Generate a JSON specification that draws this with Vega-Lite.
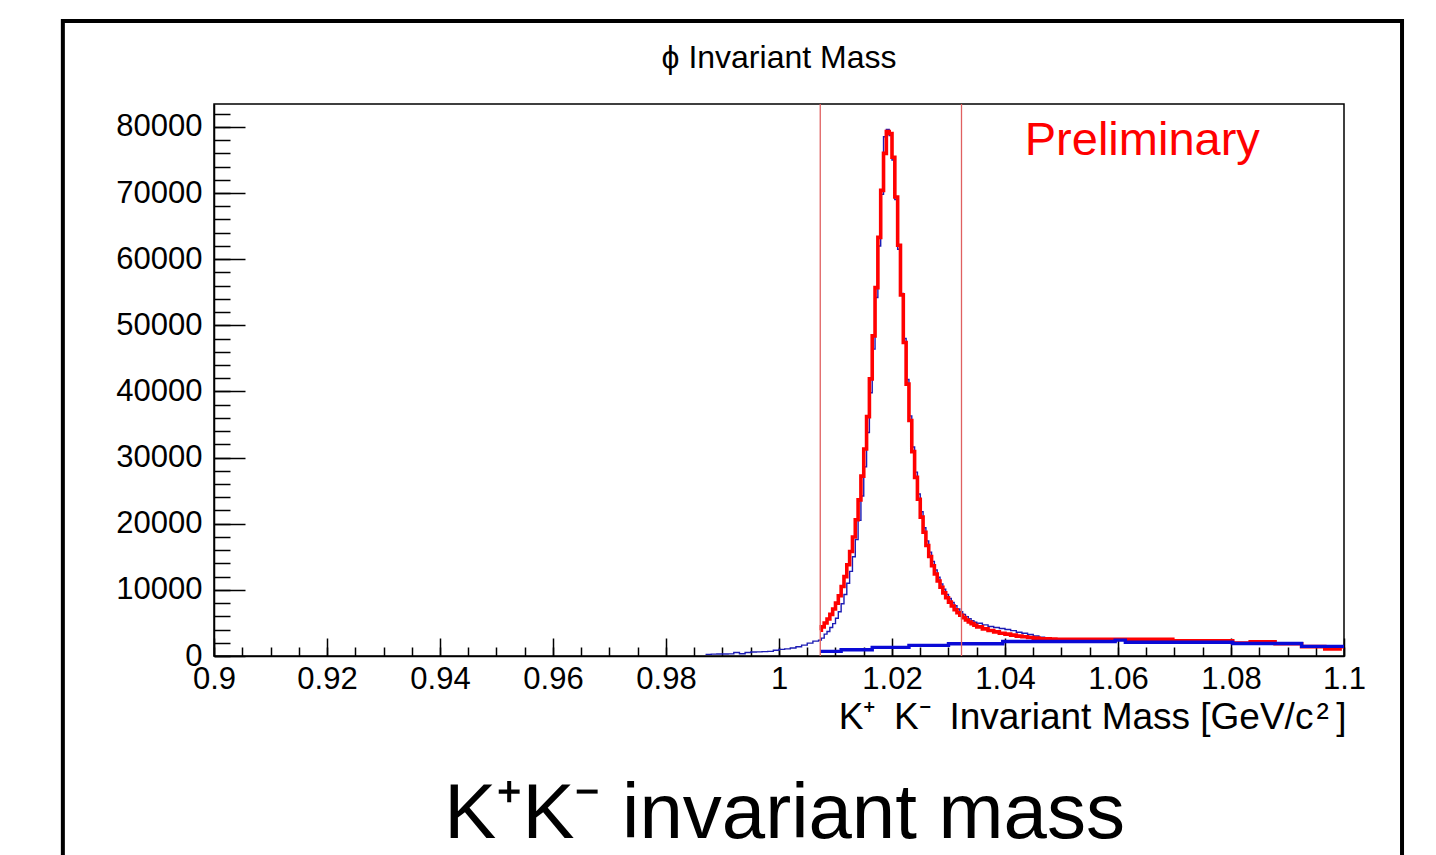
{
  "$schema": "https://vega.github.io/schema/vega-lite/v6.json",
  "width": 1130,
  "height": 552,
  "autosize": {"type": "none"},
  "padding": {"left": 214, "top": 104, "right": 92, "bottom": 199},
  "background": "white",
  "config": {
    "view": {"stroke": "#000", "strokeWidth": 1.5},
    "axis": {"grid": false, "labelFont": "Liberation Sans", "titleFont": "Liberation Sans", "labelColor": "#000", "tickColor": "#000", "domainColor": "#000", "labelFlush": false, "labelOverlap": false, "labelBound": false}
  },
  "datasets": {
    "h": [
      {"s":"hist","m":0.987,"v":250},{"s":"hist","m":0.988,"v":280},{"s":"hist","m":0.989,"v":300},{"s":"hist","m":0.990,"v":300},
      {"s":"hist","m":0.991,"v":320},{"s":"hist","m":0.992,"v":520},{"s":"hist","m":0.993,"v":330},{"s":"hist","m":0.994,"v":520},
      {"s":"hist","m":0.995,"v":600},{"s":"hist","m":0.996,"v":620},{"s":"hist","m":0.997,"v":660},{"s":"hist","m":0.998,"v":700},
      {"s":"hist","m":0.999,"v":880},{"s":"hist","m":1.000,"v":1000},{"s":"hist","m":1.001,"v":1080},{"s":"hist","m":1.002,"v":1200},
      {"s":"hist","m":1.003,"v":1400},{"s":"hist","m":1.004,"v":1650},{"s":"hist","m":1.005,"v":1950},{"s":"hist","m":1.006,"v":2250},
      {"s":"hist","m":1.007,"v":2400},{"s":"hist","m":1.0075,"v":2700},{"s":"hist","m":1.008,"v":3300},{"s":"hist","m":1.0085,"v":3700},
      {"s":"hist","m":1.009,"v":4300},{"s":"hist","m":1.0095,"v":4900},{"s":"hist","m":1.010,"v":5700},{"s":"hist","m":1.0105,"v":6700},
      {"s":"hist","m":1.011,"v":7900},{"s":"hist","m":1.0115,"v":9300},{"s":"hist","m":1.012,"v":11000},{"s":"hist","m":1.0125,"v":12800},
      {"s":"hist","m":1.013,"v":15000},{"s":"hist","m":1.0135,"v":17600},{"s":"hist","m":1.014,"v":20500},{"s":"hist","m":1.0145,"v":24200},
      {"s":"hist","m":1.015,"v":28600},{"s":"hist","m":1.0155,"v":33800},{"s":"hist","m":1.016,"v":39800},{"s":"hist","m":1.0165,"v":46400},
      {"s":"hist","m":1.017,"v":54200},{"s":"hist","m":1.0175,"v":62000},{"s":"hist","m":1.018,"v":69800},{"s":"hist","m":1.0185,"v":78500},
      {"s":"hist","m":1.019,"v":79600},{"s":"hist","m":1.0195,"v":78700},{"s":"hist","m":1.020,"v":75000},{"s":"hist","m":1.0205,"v":69000},
      {"s":"hist","m":1.021,"v":61500},{"s":"hist","m":1.0215,"v":54800},{"s":"hist","m":1.022,"v":48000},{"s":"hist","m":1.0225,"v":41800},
      {"s":"hist","m":1.023,"v":36300},{"s":"hist","m":1.0235,"v":31600},{"s":"hist","m":1.024,"v":27800},{"s":"hist","m":1.0245,"v":24500},
      {"s":"hist","m":1.025,"v":21800},{"s":"hist","m":1.0255,"v":19400},{"s":"hist","m":1.026,"v":17400},{"s":"hist","m":1.0265,"v":15700},
      {"s":"hist","m":1.027,"v":14300},{"s":"hist","m":1.0275,"v":13000},{"s":"hist","m":1.028,"v":11900},{"s":"hist","m":1.0285,"v":10900},
      {"s":"hist","m":1.029,"v":10100},{"s":"hist","m":1.0295,"v":9300},{"s":"hist","m":1.030,"v":8700},{"s":"hist","m":1.0305,"v":8100},
      {"s":"hist","m":1.031,"v":7600},{"s":"hist","m":1.0315,"v":7100},{"s":"hist","m":1.032,"v":6700},{"s":"hist","m":1.0325,"v":6300},
      {"s":"hist","m":1.033,"v":5950},{"s":"hist","m":1.0335,"v":5650},{"s":"hist","m":1.034,"v":5350},{"s":"hist","m":1.0345,"v":5100},
      {"s":"hist","m":1.035,"v":4950},{"s":"hist","m":1.036,"v":4700},{"s":"hist","m":1.037,"v":4450},{"s":"hist","m":1.038,"v":4300},
      {"s":"hist","m":1.039,"v":4150},{"s":"hist","m":1.040,"v":4000},{"s":"hist","m":1.041,"v":3830},{"s":"hist","m":1.042,"v":3600},
      {"s":"hist","m":1.043,"v":3430},{"s":"hist","m":1.044,"v":3250},{"s":"hist","m":1.045,"v":3020},{"s":"hist","m":1.046,"v":2850},
      {"s":"hist","m":1.047,"v":2700},{"s":"hist","m":1.048,"v":2600},{"s":"hist","m":1.049,"v":2600},

      {"s":"fit","m":1.0073,"v":3900},{"s":"fit","m":1.0075,"v":4400},{"s":"fit","m":1.008,"v":5000},{"s":"fit","m":1.0085,"v":5600},
      {"s":"fit","m":1.009,"v":6300},{"s":"fit","m":1.0095,"v":7100},{"s":"fit","m":1.010,"v":8000},{"s":"fit","m":1.0105,"v":9100},
      {"s":"fit","m":1.011,"v":10500},{"s":"fit","m":1.0115,"v":12000},{"s":"fit","m":1.012,"v":13800},{"s":"fit","m":1.0125,"v":15800},
      {"s":"fit","m":1.013,"v":18000},{"s":"fit","m":1.0135,"v":20600},{"s":"fit","m":1.014,"v":23600},{"s":"fit","m":1.0145,"v":27200},
      {"s":"fit","m":1.015,"v":31300},{"s":"fit","m":1.0155,"v":36200},{"s":"fit","m":1.016,"v":41900},{"s":"fit","m":1.0165,"v":48400},
      {"s":"fit","m":1.017,"v":55700},{"s":"fit","m":1.0175,"v":63300},{"s":"fit","m":1.018,"v":70400},{"s":"fit","m":1.0185,"v":76000},
      {"s":"fit","m":1.019,"v":79300},{"s":"fit","m":1.0195,"v":79000},{"s":"fit","m":1.020,"v":75400},{"s":"fit","m":1.0205,"v":69400},
      {"s":"fit","m":1.021,"v":62100},{"s":"fit","m":1.0215,"v":54600},{"s":"fit","m":1.022,"v":47400},{"s":"fit","m":1.0225,"v":41100},
      {"s":"fit","m":1.023,"v":35600},{"s":"fit","m":1.0235,"v":30900},{"s":"fit","m":1.024,"v":27000},{"s":"fit","m":1.0245,"v":23700},
      {"s":"fit","m":1.025,"v":21000},{"s":"fit","m":1.0255,"v":18700},{"s":"fit","m":1.026,"v":16700},{"s":"fit","m":1.0265,"v":15050},
      {"s":"fit","m":1.027,"v":13650},{"s":"fit","m":1.0275,"v":12400},{"s":"fit","m":1.028,"v":11350},{"s":"fit","m":1.0285,"v":10400},
      {"s":"fit","m":1.029,"v":9550},{"s":"fit","m":1.0295,"v":8800},{"s":"fit","m":1.030,"v":8150},{"s":"fit","m":1.0305,"v":7550},
      {"s":"fit","m":1.031,"v":7000},{"s":"fit","m":1.0315,"v":6550},{"s":"fit","m":1.032,"v":6150},{"s":"fit","m":1.0325,"v":5800},
      {"s":"fit","m":1.033,"v":5450},{"s":"fit","m":1.0335,"v":5150},{"s":"fit","m":1.034,"v":4900},{"s":"fit","m":1.0345,"v":4650},
      {"s":"fit","m":1.035,"v":4400},{"s":"fit","m":1.036,"v":4100},{"s":"fit","m":1.037,"v":3850},{"s":"fit","m":1.038,"v":3650},
      {"s":"fit","m":1.039,"v":3450},{"s":"fit","m":1.040,"v":3300},{"s":"fit","m":1.041,"v":3150},{"s":"fit","m":1.042,"v":3000},
      {"s":"fit","m":1.043,"v":2900},{"s":"fit","m":1.044,"v":2800},{"s":"fit","m":1.045,"v":2700},{"s":"fit","m":1.046,"v":2600},
      {"s":"fit","m":1.047,"v":2600},{"s":"fit","m":1.048,"v":2550},{"s":"fit","m":1.049,"v":2530},{"s":"fit","m":1.0697,"v":2310},
      {"s":"fit","m":1.0803,"v":1950},{"s":"fit","m":1.0834,"v":2160},{"s":"fit","m":1.0878,"v":1850},{"s":"fit","m":1.0925,"v":1420},
      {"s":"fit","m":1.0966,"v":1060},{"s":"fit","m":1.0993,"v":1400},{"s":"fit","m":1.1,"v":1400},

      {"s":"bg","m":1.0073,"v":700},{"s":"bg","m":1.011,"v":950},{"s":"bg","m":1.0165,"v":1300},{"s":"bg","m":1.023,"v":1600},
      {"s":"bg","m":1.030,"v":1850},{"s":"bg","m":1.0396,"v":2200},{"s":"bg","m":1.0595,"v":2400},{"s":"bg","m":1.0613,"v":2070},
      {"s":"bg","m":1.0803,"v":1900},{"s":"bg","m":1.0925,"v":1450},{"s":"bg","m":1.1,"v":1450}
    ]
  },
  "resolve": {"axis": {"x": "independent", "y": "independent"}},
  "layer": [
    {
      "data": {"values": [{}]},
      "mark": {"type": "rect", "filled": false, "stroke": "#000", "strokeWidth": 4},
      "encoding": {
        "x": {"datum": 0.87325, "type": "quantitative", "scale": {"domain": [0.9, 1.1], "nice": false, "zero": false}, "axis": null},
        "x2": {"datum": 1.11027},
        "y": {"datum": 96010, "type": "quantitative", "scale": {"domain": [0, 83460], "nice": false}, "axis": null},
        "y2": {"datum": -36900}
      }
    },
    {
      "data": {"name": "h"},
      "transform": [{"filter": "datum.s === 'hist'"}],
      "mark": {"type": "line", "interpolate": "step-after", "color": "#1c1cb4", "strokeWidth": 1.4},
      "encoding": {
        "x": {"field": "m", "type": "quantitative", "scale": {"domain": [0.9, 1.1], "nice": false, "zero": false},
          "axis": {"orient": "bottom", "values": [0.9, 0.92, 0.94, 0.96, 0.98, 1, 1.02, 1.04, 1.06, 1.08, 1.1], "format": ".3~f",
            "tickSize": -18, "tickWidth": 1.5, "labelFontSize": 31, "labelPadding": 26, "domain": true, "domainWidth": 1.5,
            "title": "K⁺\u2009 K⁻\u2009 Invariant Mass [GeV/c\u200a²\u2009]", "titleFontSize": 37, "titleFontWeight": "normal", "titleColor": "#000",
            "titleX": 1132, "titleY": 72, "titleAlign": "right", "titleBaseline": "alphabetic"}},
        "y": {"field": "v", "type": "quantitative", "scale": {"domain": [0, 83460], "nice": false},
          "axis": {"orient": "left", "values": [0, 10000, 20000, 30000, 40000, 50000, 60000, 70000, 80000], "format": "d",
            "tickSize": -31, "tickWidth": 1.5, "labelFontSize": 31, "labelPadding": 43, "domain": true, "domainWidth": 1.5, "title": null}}
      }
    },
    {
      "data": {"name": "h"},
      "transform": [{"filter": "datum.s === 'fit'"}],
      "mark": {"type": "line", "interpolate": "step-after", "color": "#ff0000", "strokeWidth": 3.6},
      "encoding": {
        "x": {"field": "m", "type": "quantitative", "axis": null},
        "y": {"field": "v", "type": "quantitative", "axis": null}
      }
    },
    {
      "data": {"name": "h"},
      "transform": [{"filter": "datum.s === 'bg'"}],
      "mark": {"type": "line", "interpolate": "step-after", "color": "#0a0ad6", "strokeWidth": 3.4},
      "encoding": {
        "x": {"field": "m", "type": "quantitative", "axis": null},
        "y": {"field": "v", "type": "quantitative",
          "axis": {"orient": "left", "values": [0, 2000, 4000, 6000, 8000, 10000, 12000, 14000, 16000, 18000, 20000, 22000, 24000, 26000, 28000, 30000, 32000, 34000, 36000, 38000, 40000, 42000, 44000, 46000, 48000, 50000, 52000, 54000, 56000, 58000, 60000, 62000, 64000, 66000, 68000, 70000, 72000, 74000, 76000, 78000, 80000, 82000],
            "tickSize": -16, "tickWidth": 1.5, "labels": false, "domain": false, "title": null}}
      }
    },
    {
      "data": {"values": [{"cut": 1.0073}, {"cut": 1.0323}]},
      "mark": {"type": "rule", "color": "#e06060", "strokeWidth": 1.3},
      "encoding": {
        "x": {"field": "cut", "type": "quantitative",
          "axis": {"orient": "bottom", "values": [0.9, 0.905, 0.91, 0.915, 0.92, 0.925, 0.93, 0.935, 0.94, 0.945, 0.95, 0.955, 0.96, 0.965, 0.97, 0.975, 0.98, 0.985, 0.99, 0.995, 1, 1.005, 1.01, 1.015, 1.02, 1.025, 1.03, 1.035, 1.04, 1.045, 1.05, 1.055, 1.06, 1.065, 1.07, 1.075, 1.08, 1.085, 1.09, 1.095, 1.1],
            "tickSize": -9, "tickWidth": 1.5, "labels": false, "domain": false, "title": null}}
      }
    },
    {
      "data": {"values": [{}]},
      "mark": {"type": "text", "text": "ϕ Invariant Mass", "font": "Liberation Sans", "fontSize": 32, "align": "center", "baseline": "alphabetic", "color": "#000"},
      "encoding": {"x": {"datum": 1.0, "type": "quantitative", "axis": null}, "y": {"datum": 88900, "type": "quantitative", "axis": null}}
    },
    {
      "data": {"values": [{}]},
      "mark": {"type": "text", "text": "Preliminary", "font": "Liberation Sans", "fontSize": 47, "align": "left", "baseline": "alphabetic", "color": "#ff0000"},
      "encoding": {"x": {"datum": 1.0435, "type": "quantitative", "axis": null}, "y": {"datum": 75750, "type": "quantitative", "axis": null}}
    },
    {
      "data": {"values": [{}]},
      "mark": {"type": "text", "text": "K⁺K⁻ invariant mass", "font": "Liberation Sans", "fontSize": 78, "align": "center", "baseline": "alphabetic", "color": "#000"},
      "encoding": {"x": {"datum": 1.001, "type": "quantitative", "axis": null}, "y": {"datum": -27520, "type": "quantitative", "axis": null}}
    }
  ]
}
